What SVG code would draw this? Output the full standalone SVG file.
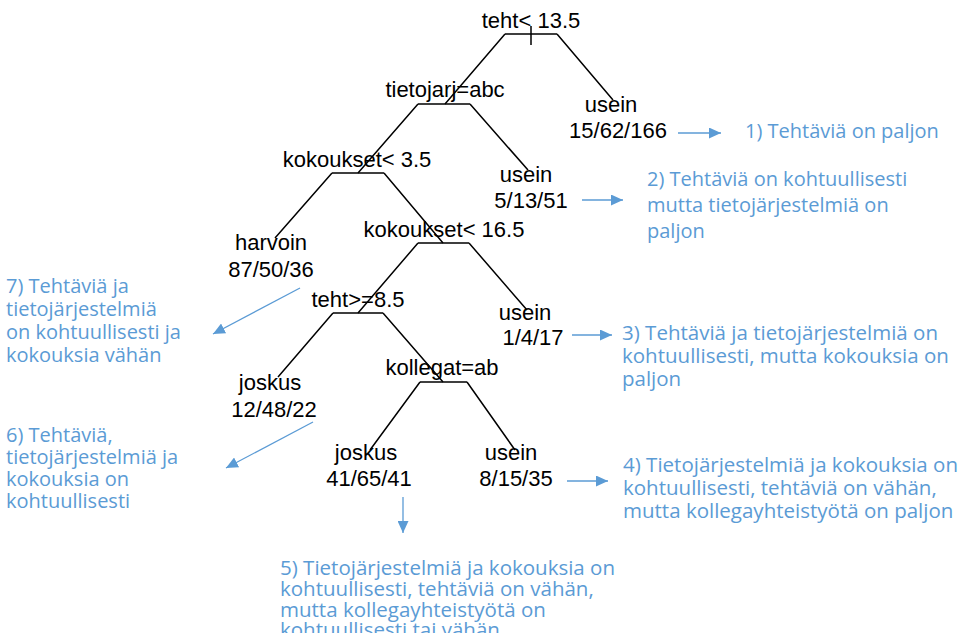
<svg xmlns="http://www.w3.org/2000/svg" width="964" height="633" viewBox="0 0 964 633">
<defs>
<style>
.t{font-family:"Liberation Sans",Arial,sans-serif;font-size:22px;fill:#000;text-anchor:middle}
.b{font-family:"Open Sans","Noto Sans",sans-serif;font-size:20px;fill:#5b9bd5}
.w{font-size:20.5px}
.e{stroke:#000;stroke-width:1.5;fill:none}
.a{stroke:#5b9bd5;stroke-width:1.3;fill:none;marker-end:url(#ah)}
</style>
<marker id="ah" markerUnits="userSpaceOnUse" markerWidth="13" markerHeight="11" refX="12" refY="5.5" orient="auto">
<path d="M0,0 L12,5.5 L0,11 z" fill="#5b9bd5"/>
</marker>
</defs>
<rect width="964" height="633" fill="#fff"/>
<g id="edges">
<path class="e" d="M505,34 H557 M531,26 V45 M505,34 L445,104 M557,34 L613,100"/>
<path class="e" d="M418,104 H470 M418,104 L358,173 M470,104 L528,170"/>
<path class="e" d="M332,173 H384 M332,173 L275,238 M384,173 L443,243"/>
<path class="e" d="M418,243 H469 M418,243 L358,313 M469,243 L527,310"/>
<path class="e" d="M333,313 H383 M333,313 L278,377 M383,313 L443,382"/>
<path class="e" d="M420,382 H467 M420,382 L370,450 M467,382 L515,450"/>
</g>
<g id="n_root"><text class="t" x="531" y="28">teht&lt; 13.5</text></g>
<g id="n_tieto"><text class="t" x="445" y="97">tietojarj=abc</text></g>
<g id="n_leaf1"><text class="t" x="611" y="112">usein</text><text class="t" x="618" y="138">15/62/166</text></g>
<g id="n_kok35"><text class="t" x="357" y="167">kokoukset&lt; 3.5</text></g>
<g id="n_leaf2"><text class="t" x="526" y="182">usein</text><text class="t" x="531" y="208">5/13/51</text></g>
<g id="n_kok165"><text class="t" x="444" y="237">kokoukset&lt; 16.5</text></g>
<g id="n_leaf7"><text class="t" x="271" y="250">harvoin</text><text class="t" x="271" y="277">87/50/36</text></g>
<g id="n_teht85"><text class="t" x="358" y="307">teht&gt;=8.5</text></g>
<g id="n_leaf3"><text class="t" x="525" y="320">usein</text><text class="t" x="533" y="345">1/4/17</text></g>
<g id="n_koll"><text class="t" x="442" y="375">kollegat=ab</text></g>
<g id="n_leaf6"><text class="t" x="270" y="390">joskus</text><text class="t" x="274" y="417">12/48/22</text></g>
<g id="n_leaf5"><text class="t" x="366" y="460">joskus</text><text class="t" x="369" y="486">41/65/41</text></g>
<g id="n_leaf4"><text class="t" x="511" y="460">usein</text><text class="t" x="516" y="486">8/15/35</text></g>
<g id="arrows">
<line class="a" x1="678" y1="133" x2="721" y2="133"/>
<line class="a" x1="582" y1="200" x2="623" y2="200"/>
<line class="a" x1="572" y1="335" x2="612" y2="335"/>
<line class="a" x1="567" y1="481" x2="608" y2="481"/>
<line class="a" x1="403" y1="497" x2="403" y2="533"/>
<line class="a" x1="300" y1="288" x2="213" y2="334"/>
<line class="a" x1="313" y1="422" x2="226" y2="468"/>
</g>
<g id="c1"><text class="b" x="745" y="138">1) Tehtäviä on paljon</text></g>
<g id="c2"><text class="b" x="647" y="186">2) Tehtäviä on kohtuullisesti</text><text class="b" x="647" y="212">mutta tietojärjestelmiä on</text><text class="b" x="647" y="238">paljon</text></g>
<g id="c3"><text class="b w" x="622" y="340">3) Tehtäviä ja tietojärjestelmiä on</text><text class="b w" x="622" y="363">kohtuullisesti, mutta kokouksia on</text><text class="b w" x="622" y="386">paljon</text></g>
<g id="c4"><text class="b w" x="623" y="472">4) Tietojärjestelmiä ja kokouksia on</text><text class="b w" x="623" y="495">kohtuullisesti, tehtäviä on vähän,</text><text class="b w" x="623" y="518">mutta kollegayhteistyötä on paljon</text></g>
<g id="c5"><text class="b w" x="280" y="575">5) Tietojärjestelmiä ja kokouksia on</text><text class="b w" x="280" y="596">kohtuullisesti, tehtäviä on vähän,</text><text class="b w" x="280" y="617">mutta kollegayhteistyötä on</text><text class="b w" x="280" y="637">kohtuullisesti tai vähän</text></g>
<g id="c6"><text class="b" x="6" y="442">6) Tehtäviä,</text><text class="b" x="6" y="464">tietojärjestelmiä ja</text><text class="b" x="6" y="486">kokouksia on</text><text class="b" x="6" y="508">kohtuullisesti</text></g>
<g id="c7"><text class="b" x="6" y="293">7) Tehtäviä ja</text><text class="b" x="6" y="316">tietojärjestelmiä</text><text class="b" x="6" y="339">on kohtuullisesti ja</text><text class="b" x="6" y="362">kokouksia vähän</text></g>
</svg>
